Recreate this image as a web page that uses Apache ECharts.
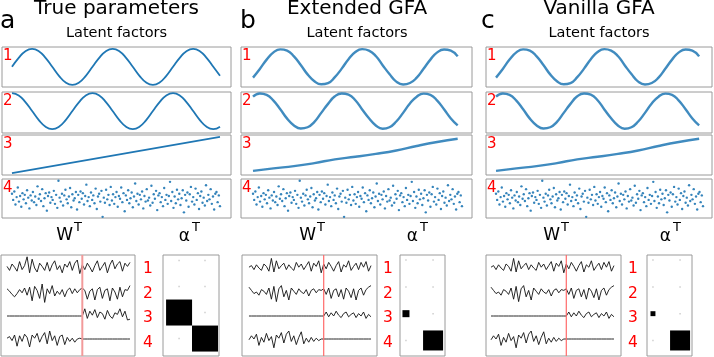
<!DOCTYPE html>
<html>
<head>
<meta charset="utf-8">
<script src="https://cdn.jsdelivr.net/npm/echarts@6/dist/echarts.min.js"></script>
<style>
html, body { margin: 0; padding: 0; background: #fff; }
#main { width: 714px; height: 357px; }
</style>
</head>
<body>
<div id="main"></div>
<script>
// latent factors, one value every 1/12 of a period
var trueF1 = [0, .5, .87, 1, .87, .5, 0, -.5, -.87, -1, -.87, -.5,
              0, .5, .87, 1, .87, .5, 0, -.5, -.87, -1, -.87, -.5,
              0, .5, .87, 1, .87, .5, 0, -.5];
var trueF2 = [1, .87, .5, 0, -.5, -.87, -1, -.87, -.5, 0, .5, .87,
              1, .87, .5, 0, -.5, -.87, -1, -.87, -.5, 0, .5, .87,
              1, .87, .5, 0, -.5, -.87, -1, -.87];
var trueF3 = [[0, -1], [31, 1]];
var estF1 = [-.6, -.12, .4, .8, .97, .9, .58, .1, -.42, -.8, -.97, -.9,
             -.57, -.1, .42, .82, .98, .9, .6, .09, -.4, -.82, -.98, -.9,
             -.6, -.11, .4, .8, .96, .9, .58];
var estF2 = [.8, .98, .9, .58, .1, -.42, -.8, -.97, -.9, -.6, -.1, .4,
             .82, .98, .91, .6, .09, -.4, -.8, -.98, -.9, -.58, -.1, .42,
             .8, .97, .9, .58, .1, -.41, -.8];
var estF3 = [[0, -.88], [3, -.74], [6, -.62], [9, -.45], [12, -.24], [15, -.1],
             [18, .06], [21, .25], [24, .5], [27, .72], [30, .9]];
var noiseF4 = [
  0.8, -0.3, 1.2, -1.1, 0.2, 1.9, -0.6, 0.4, -1.5, 0.9,
  -0.2, 0.6, -0.9, 1.4, 0.1, -1.8, 0.5, -0.4, 1.1, -0.7,
  0.3, -1.2, 2.1, -0.1, 0.7, -0.5, 1.6, -1.4, 0.0, 0.9,
  -2.2, 0.4, 1.0, -0.8, 0.2, -0.3, 1.3, -1.0, 0.6, -1.7,
  3.1, 0.1, -0.6, 0.8, -1.3, 0.5, 1.5, -0.2, -0.9, 0.3,
  1.8, -1.6, 0.7, -0.4, 0.0, 1.1, -2.0, 0.6, -0.7, 1.2,
  -0.1, 0.9, -1.1, 0.4, 2.4, -0.5, 0.2, -1.4, 1.0, -0.3,
  0.5, -0.9, 1.7, -1.9, 0.3, 0.8, -0.6, 1.3, -3.3, 0.1,
  -0.8, 1.5, -0.2, 0.6, -1.2, 2.0, -0.4, 0.7, -1.0, 0.2,
  1.1, -1.5, 0.4, -0.1, 1.9, -0.7, 0.9, -2.3, 0.5, -0.3,
  1.4, -0.9, 0.0, 1.0, -1.6, 0.3, 2.6, -0.5, 0.8, -1.1,
  0.6, -0.2, 1.2, -1.8, 0.4, -0.6, 1.6, -0.4, 0.1, -1.3,
  2.2, -0.8, 0.7, -0.1, 1.3, -2.1, 0.5, 0.9, -0.7, 0.2,
  -1.4, 1.8, -0.3, 0.6, -1.0, 0.4, 2.9, -0.5, 1.1, -1.7,
  0.3, -0.9, 1.5, -0.2, 0.8, -1.2, 0.0, 1.4, -2.5, 0.6,
  -0.4, 1.0, -1.5, 0.7, 2.0, -0.6, 0.2, -1.1, 1.7, -0.3,
  0.9, -1.9, 0.4, 1.2, -0.8, 0.1, -1.3, 2.3, -0.5, 0.6,
  -0.2, 1.6, -1.0, 0.3, -2.0, 0.8, 1.1, -0.7, 0.5, -1.4
];

// loadings W^T, 30 features of view 1 then 20 of view 2
var wTrue1 = [0.2, -0.3, 0.5, 0.1, -0.4, 0.8, -0.2, 0.3, 1.4, -0.6,
              1.1, 0.0, -0.5, 0.6, 0.2, -0.3, 0.7, -0.4, 0.4, 0.9,
              -0.2, 0.3, -0.6, 0.5, 0.1, 0.8, -0.3, 0.6, 1.0, -0.7,
              0.4, -0.2, 0.6, 0.1, -0.5, 0.3, 0.9, -0.3, 0.2, 0.7,
              -0.6, 0.4, 1.0, -0.1, 0.5, 0.8, -0.4, 0.6, 0.2, 0.7];
var wTrue2 = [0.4, 0.1, -0.3, -0.6, -0.2, 0.3, -0.1, 0.5, -0.4, 0.6,
              -1.1, 0.7, 0.2, -0.8, 1.0, -1.3, 0.4, -0.2, 0.8, -0.5,
              0.1, -0.3, 0.3, -0.6, 0.2, 0.5, -0.2, 0.4, -0.1, 0.3,
              0.5, 0.2, -0.9, 0.1, 0.4, -1.0, 0.3, 0.6, -0.8, 0.2,
              0.4, -1.1, 0.5, 0.0, -0.9, 0.6, -0.6, 0.3, 0.2, 0.8];
var wTrue3 = [0, 0, 0, 0, 0, 0, 0, 0, 0, 0,
              0, 0, 0, 0, 0, 0, 0, 0, 0, 0,
              0, 0, 0, 0, 0, 0, 0, 0, 0, 0,
              0, 0.9, -0.3, 0.6, 0.1, 0.8, -0.2, 0.5, 0.3, -0.4,
              0.7, 0.0, -0.3, 0.4, 0.2, 0.9, -0.1, 0.6, -0.5, -0.4];
var wTrue4 = [0.1, 0.3, -0.2, 0.5, -0.9, 0.4, -0.3, 0.6, 0.2, -1.0,
              0.5, 0.1, 0.7, -0.4, 0.3, 0.8, -0.6, 1.0, -0.2, 0.4,
              -0.8, 0.3, 0.5, -0.7, 0.2, -0.3, 0.1, -0.4, 0.0, 0.1,
              0, 0, 0, 0, 0, 0, 0, 0, 0, 0,
              0, 0, 0, 0, 0, 0, 0, 0, 0, 0];
var wEst1 = [0.1, 0.3, -0.2, 0.4, 0.0, -0.3, 0.5, 0.2, -0.4, 1.2,
             -0.5, 0.9, -0.1, 0.3, 0.6, -0.2, 0.4, 0.0, -0.3, 0.7,
             0.1, 0.5, -0.2, 0.3, 0.8, -0.4, 0.6, 0.2, 0.9, -0.6,
             0.5, -0.1, 0.7, 0.2, -0.4, 0.3, 0.8, -0.5, 0.4, 0.1,
             0.9, -0.3, 0.2, 0.6, -0.2, 0.7, 0.1, 0.8, -0.4, 0.3];
var wEst2 = [0.6, 0.2, -0.2, 0.0, -0.4, 0.3, 0.1, -0.3, 0.5, -0.9,
             0.7, -1.2, 0.4, 0.8, -0.6, 0.2, -1.0, 0.5, 0.1, -0.3,
             0.4, 0.0, -0.2, 0.3, -0.5, 0.2, 0.4, -0.1, 0.3, 0.2,
             0.4, -0.3, 0.5, -0.8, 0.2, 0.4, -0.6, 0.3, -0.9, 0.5,
             0.1, -0.7, 0.4, -1.0, 0.2, 0.5, -0.4, 0.3, 0.6, 0.8];
var wEst3 = [0, 0, 0, 0, 0, 0, 0, 0, 0, 0,
             0, 0, 0, 0, 0, 0, 0, 0, 0, 0,
             0, 0, 0, 0, 0, 0, 0, 0, 0, 0,
             0, 0.5, -0.1, 0.4, 0.0, 0.6, 0.1, -0.2, 0.3, 0.5,
             -0.1, 0.2, 0.4, -0.2, 0.3, 0.0, 0.5, -0.3, 0.2, -0.1];
var wEst4 = [-0.1, 0.4, 0.0, 0.6, -0.8, 0.2, -0.4, 0.7, -0.2, 0.3,
             -1.1, 0.5, 0.1, 0.8, -0.5, 0.6, 1.0, -0.3, 0.4, -0.7,
             0.2, 0.9, -0.6, 0.1, -0.4, 0.2, -0.3, 0.1, -0.2, 0.0,
             0, 0, 0, 0, 0, 0, 0, 0, 0, 0,
             0, 0, 0, 0, 0, 0, 0, 0, 0, 0];
var viewSplit = 30;

// alpha^T as [view, component, relative square size]
var hintonTrue = [[0, 0, .02], [1, 0, .02], [0, 1, .02], [1, 1, .02],
                  [0, 2, 1], [1, 2, .02], [0, 3, .02], [1, 3, 1]];
var hintonExt = [[0, 0, .02], [1, 0, .02], [0, 1, .02], [1, 1, .02],
                 [0, 2, .27], [1, 2, .02], [0, 3, .02], [1, 3, .77]];
var hintonVan = [[0, 0, .02], [1, 0, .02], [0, 1, .02], [1, 1, .02],
                 [0, 2, .19], [1, 2, .02], [0, 3, .02], [1, 3, .77]];

var letters = ['a', 'b', 'c'];
var titles = ['True parameters', 'Extended GFA', 'Vanilla GFA'];
var subTitle = 'Latent factors';
var rowLabels = ['1', '2', '3', '4'];

var blue = '#1f77b4';
var font = '"DejaVu Sans", Verdana, sans-serif';

var grids = [], xAxes = [], yAxes = [], series = [], texts = [];

function addGrid(box, xr, yr, frame, inverse) {
    var i = grids.length;
    grids.push({
        left: box[0], top: box[1], width: box[2], height: box[3],
        show: frame, borderColor: '#9a9a9a', borderWidth: 1,
        backgroundColor: 'transparent'
    });
    xAxes.push({type: 'value', gridIndex: i, min: xr[0], max: xr[1], show: false});
    yAxes.push({type: 'value', gridIndex: i, min: yr[0], max: yr[1], show: false, inverse: !!inverse});
    return i;
}
function pairs(arr) {
    return arr.map(function (v, i) { return [i, v]; });
}
function addText(x, y, str, size, color, align) {
    texts.push({
        type: 'text', x: x, y: y, silent: true,
        style: {
            text: str, fontSize: size, fontFamily: font, fill: color || '#000',
            textAlign: align || 'center', align: align || 'center',
            textVerticalAlign: 'middle', verticalAlign: 'middle'
        }
    });
}

var cols = [
    {
        panelX: 2, panelW: 229, curveX: [-1.49, 32.64], scatX: [-8.6, 188.5],
        f: [trueF1, trueF2, trueF3], lw: 1.8, op: 1, w: [wTrue1, wTrue2, wTrue3, wTrue4],
        wBox: [1, 255, 134, 101], wX: [-2.4, 51], red: '#f29a9a', redW: 2,
        hBox: [163, 255, 56, 101], hX: [-0.62, 1.54], hY: [-0.21, 3.67], hinton: hintonTrue,
        letterX: 0, titleX: 116.5, numX: 148, wRight: 73, aRight: 190
    },
    {
        panelX: 241, panelW: 231, curveX: [-1.76, 32.1], scatX: [-10.3, 187.6],
        f: [estF1, estF2, estF3], lw: 2.4, op: 0.85, w: [wEst1, wEst2, wEst3, wEst4],
        wBox: [242, 255, 135, 101], wX: [-2.8, 51.4], red: '#ff6a6a', redW: 1.2,
        hBox: [400, 255, 45, 101], hX: [-0.22, 1.44], hY: [-0.19, 3.58], hinton: hintonExt,
        letterX: 240, titleX: 357, numX: 388, wRight: 316, aRight: 418
    },
    {
        panelX: 486, panelW: 226, curveX: [-1.48, 31.9], scatX: [-8.65, 186.8],
        f: [estF1, estF2, estF3], lw: 2.4, op: 0.85, w: [wEst1, wEst2, wEst3, wEst4],
        wBox: [486, 255, 135, 101], wX: [-2, 51.8], red: '#ff6a6a', redW: 1.2,
        hBox: [647, 255, 45, 101], hX: [-0.22, 1.44], hY: [-0.19, 3.58], hinton: hintonVan,
        letterX: 481, titleX: 599, numX: 633, wRight: 560, aRight: 671
    }
];

var rowTops = [47, 92, 135, 179];
var rowHeights = [40, 41, 40, 39];
var rowY = [[-1.12, 1.1], [-1.22, 1.06], [-1.11, 1.11], [-3.5, 3.4]];
var wRowCenters = [268, 292, 316, 339];
var numY = [268.5, 293.5, 318, 343];

cols.forEach(function (c, ci) {
    addText(c.letterX, 21, letters[ci], 25, '#000', 'left');
    addText(c.titleX, 9, titles[ci], 20);
    addText(c.titleX, 33.5, subTitle, 14.5);

    // four latent factor panels
    for (var r = 0; r < 4; r++) {
        var box = [c.panelX, rowTops[r], c.panelW, rowHeights[r]];
        var g;
        if (r < 3) {
            g = addGrid(box, c.curveX, rowY[r], true);
            var d = c.f[r][0] && c.f[r][0].length ? c.f[r] : pairs(c.f[r]);
            series.push({
                type: 'line', xAxisIndex: g, yAxisIndex: g, data: d,
                smooth: 0.5, symbol: 'none', silent: true,
                lineStyle: {color: blue, width: c.lw, opacity: c.op}
            });
        } else {
            g = addGrid(box, c.scatX, rowY[r], true);
            series.push({
                type: 'scatter', xAxisIndex: g, yAxisIndex: g, data: pairs(noiseF4),
                symbolSize: 2.4, silent: true, itemStyle: {color: blue, opacity: 0.9}
            });
        }
        texts.push({
            type: 'text', x: c.panelX + 1, y: rowTops[r] + 2, silent: true,
            style: {text: rowLabels[r], fontSize: 15, fontFamily: font, fill: '#ff0000',
                    textAlign: 'left', align: 'left', textVerticalAlign: 'top', verticalAlign: 'top'}
        });
    }

    // W^T panel: frame with the view split line, one strip per component
    var fg = addGrid(c.wBox, c.wX, [0, 1], true);
    for (var k = 0; k < 4; k++) {
        var rg = addGrid([c.wBox[0], wRowCenters[k] - 12, c.wBox[2], 24], c.wX, [-1.5, 1.5], false);
        series.push({
            type: 'line', xAxisIndex: rg, yAxisIndex: rg, data: pairs(c.w[k]),
            symbol: 'none', silent: true, lineStyle: {color: '#111', width: 0.9}
        });
    }
    series.push({
        type: 'line', xAxisIndex: fg, yAxisIndex: fg, z: 5,
        data: [[viewSplit, 0], [viewSplit, 1]],
        symbol: 'none', silent: true, lineStyle: {color: c.red, width: c.redW}
    });

    // alpha^T Hinton diagram
    var hg = addGrid(c.hBox, c.hX, c.hY, true, true);
    series.push({
        type: 'scatter', xAxisIndex: hg, yAxisIndex: hg, data: c.hinton,
        symbol: 'rect', silent: true,
        symbolSize: function (v) { return Math.max(v[2] * 26, 1.5); },
        itemStyle: {
            opacity: 1,
            color: function (p) { return p.value[2] > 0.1 ? '#000' : '#cfcfcf'; }
        }
    });

    // W^T and alpha^T headings
    addText(c.wRight, 235.5, 'W', 17, '#000', 'right');
    addText(c.wRight + 1, 228, 'T', 13, '#000', 'left');
    addText(c.aRight, 236.5, 'α', 17, '#000', 'right');
    addText(c.aRight + 2, 228, 'T', 13, '#000', 'left');

    for (var n = 0; n < 4; n++) {
        addText(c.numX, numY[n], rowLabels[n], 15.5, '#ff0000');
    }
});

var chart = echarts.init(document.getElementById('main'));
chart.setOption({
    animation: false,
    grid: grids,
    xAxis: xAxes,
    yAxis: yAxes,
    series: series,
    graphic: {elements: texts}
});
</script>
</body>
</html>
